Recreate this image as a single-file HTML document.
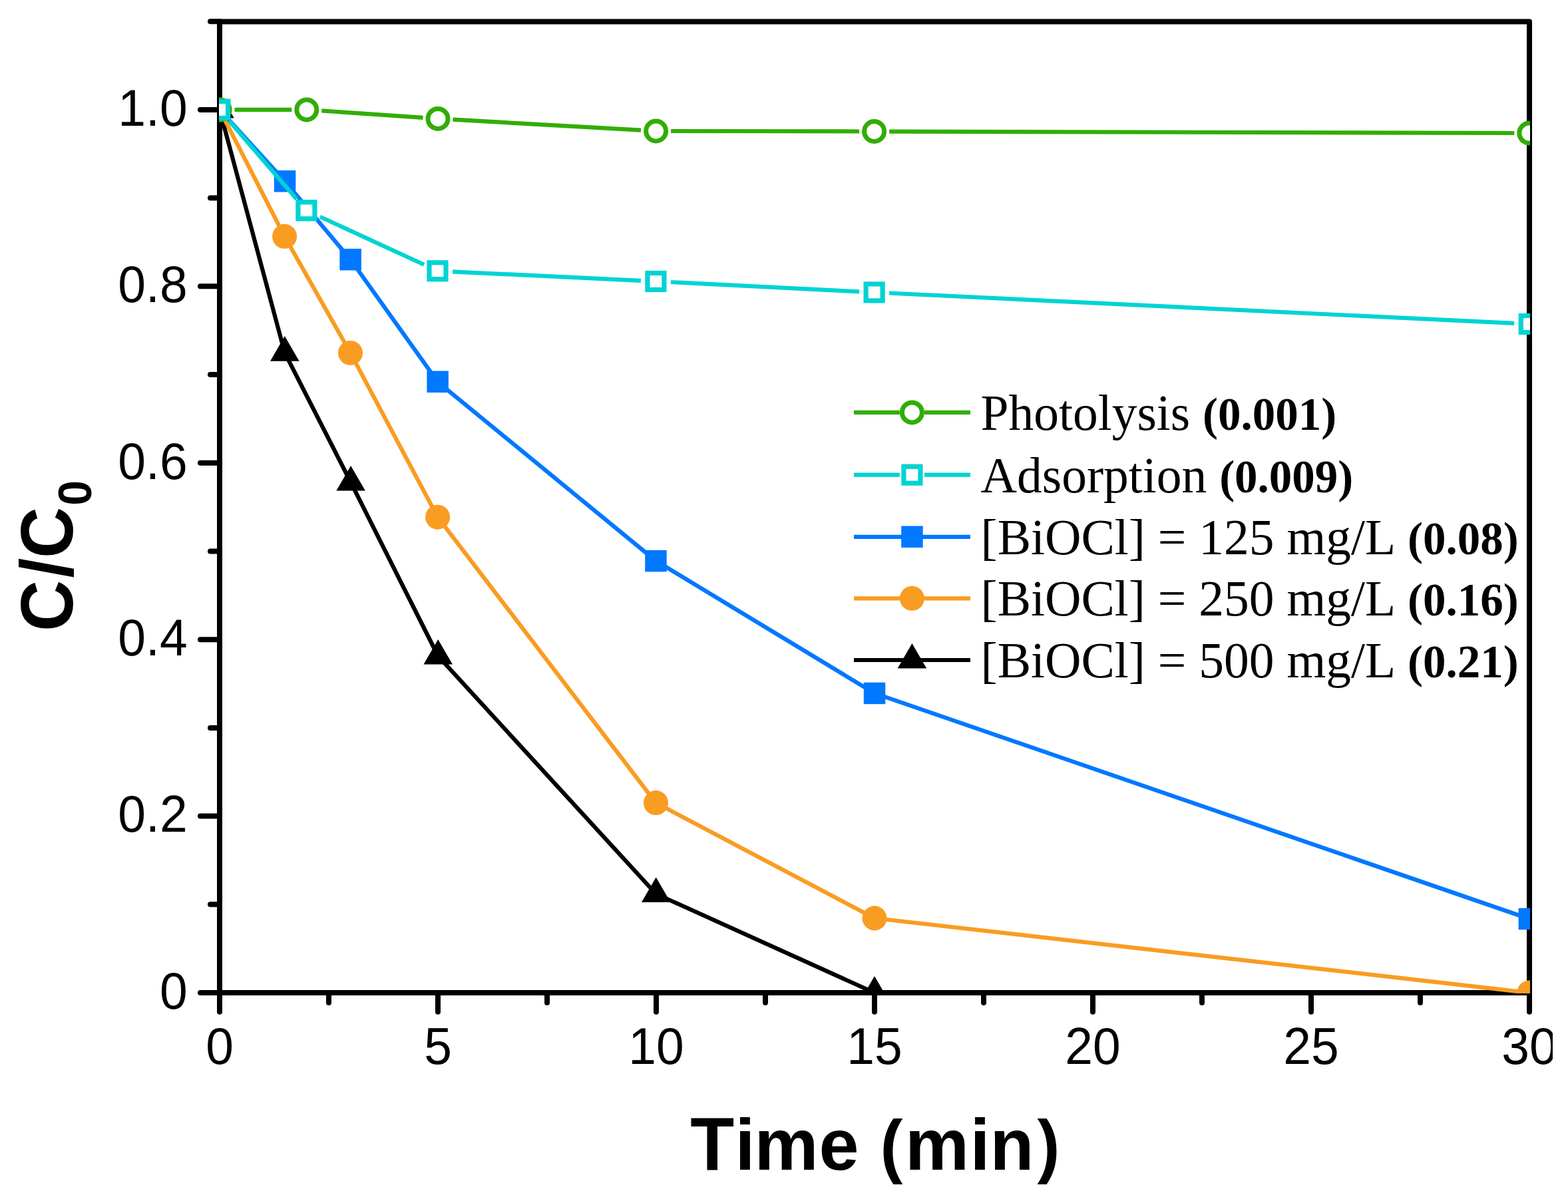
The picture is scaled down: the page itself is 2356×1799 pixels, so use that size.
<!DOCTYPE html>
<html><head><meta charset="utf-8"><title>C/C0 vs Time</title>
<style>
html,body{margin:0;padding:0;background:#fff;}
body{width:2356px;height:1799px;overflow:hidden;}
svg{display:block;}
.tk{font-family:"Liberation Sans",Arial,sans-serif;font-size:75px;fill:#000;}
.ttl{font-family:"Liberation Sans",Arial,sans-serif;font-weight:bold;fill:#000;}
.lg{font-family:"Liberation Serif","Times New Roman",serif;font-size:75.5px;fill:#000;}
.lgb{font-weight:bold;font-size:69px;}
</style></head><body>
<svg width="2356" height="1799" viewBox="0 0 2356 1799">
<defs>
<clipPath id="pc"><rect x="329" y="28" width="1970" height="1465"/></clipPath>
<clipPath id="pg"><rect x="0" y="0" width="2333" height="1799"/></clipPath>
</defs>
<rect width="2356" height="1799" fill="#fff"/>
<g clip-path="url(#pg)">

<path d="M330.0,32.5H2298.0V1492.0H330.0Z" fill="none" stroke="#000" stroke-width="8.0" stroke-linejoin="round"/>
<path d="M330.0,1492.0H301.0M330.0,1226.6H301.0M330.0,961.2H301.0M330.0,695.7H301.0M330.0,430.3H301.0M330.0,164.9H301.0M330.0,1359.3H316.0M330.0,1093.9H316.0M330.0,828.5H316.0M330.0,563.0H316.0M330.0,297.6H316.0M330.0,32.2H316.0M330.0,1492.0V1520.7M658.0,1492.0V1520.7M986.0,1492.0V1520.7M1314.0,1492.0V1520.7M1642.0,1492.0V1520.7M1970.0,1492.0V1520.7M2298.0,1492.0V1520.7M494.0,1492.0V1507.0M822.0,1492.0V1507.0M1150.0,1492.0V1507.0M1478.0,1492.0V1507.0M1806.0,1492.0V1507.0M2134.0,1492.0V1507.0" fill="none" stroke="#000" stroke-width="8.0" stroke-linecap="round"/>
<text class="tk" transform="translate(281.6,1515.8) scale(1,1.040)" text-anchor="end">0</text>
<text class="tk" transform="translate(281.6,1250.4) scale(1,1.040)" text-anchor="end">0.2</text>
<text class="tk" transform="translate(281.6,985.0) scale(1,1.040)" text-anchor="end">0.4</text>
<text class="tk" transform="translate(281.6,719.5) scale(1,1.040)" text-anchor="end">0.6</text>
<text class="tk" transform="translate(281.6,454.1) scale(1,1.040)" text-anchor="end">0.8</text>
<text class="tk" transform="translate(281.6,188.7) scale(1,1.040)" text-anchor="end">1.0</text>
<text class="tk" transform="translate(330.0,1599.4) scale(1,1.040)" text-anchor="middle">0</text>
<text class="tk" transform="translate(658.0,1599.4) scale(1,1.040)" text-anchor="middle">5</text>
<text class="tk" transform="translate(986.0,1599.4) scale(1,1.040)" text-anchor="middle">10</text>
<text class="tk" transform="translate(1314.0,1599.4) scale(1,1.040)" text-anchor="middle">15</text>
<text class="tk" transform="translate(1642.0,1599.4) scale(1,1.040)" text-anchor="middle">20</text>
<text class="tk" transform="translate(1970.0,1599.4) scale(1,1.040)" text-anchor="middle">25</text>
<text class="tk" transform="translate(2298.0,1599.4) scale(1,1.040)" text-anchor="middle">30</text>
<text class="ttl" transform="translate(0,1757.8) scale(1,1.042)" font-size="108"><tspan x="1037.3">T</tspan></text>
<text class="ttl" transform="translate(0,1757.8) scale(1,1.042)" font-size="102"><tspan x="1322.4">(</tspan></text>
<text class="ttl" transform="translate(0,1757.8) scale(1,1.042)" font-size="102"><tspan x="1558.5">)</tspan></text>
<text class="ttl" transform="translate(0,1757.8) scale(1,1.016)" font-size="108"><tspan x="1104.4">i</tspan><tspan x="1133.4">m</tspan><tspan x="1230.6">e</tspan><tspan x="1359.9">m</tspan><tspan x="1457.5">i</tspan><tspan x="1487.4">n</tspan></text>
<text class="ttl" transform="translate(108.9,1000.0) rotate(-90) scale(1,1.045)" font-size="107"><tspan x="51.0">C</tspan><tspan x="131.5">/</tspan><tspan x="161.0">C</tspan><tspan x="240.3" dy="27.2" font-size="68">0</tspan></text>
<g clip-path="url(#pc)">
<polyline points="330.0,164.9 427.8,530.1 527.1,725.0 658.2,986.0 985.7,1343.5 1314.0,1492.0" fill="none" stroke="#000000" stroke-width="6.2" stroke-linejoin="round"/>
<polygon points="330.0,139.8 351.8,177.5 308.2,177.5" fill="#000000"/>
<polygon points="427.8,505.0 449.6,542.7 406.1,542.7" fill="#000000"/>
<polygon points="527.1,699.9 548.9,737.6 505.4,737.6" fill="#000000"/>
<polygon points="658.2,960.9 680.0,998.6 636.5,998.6" fill="#000000"/>
<polygon points="985.7,1318.4 1007.5,1356.1 964.0,1356.1" fill="#000000"/>
<polygon points="1314.0,1466.9 1335.8,1504.6 1292.2,1504.6" fill="#000000"/>
<polyline points="330.0,164.9 427.6,355.3 526.5,530.4 657.6,777.2 985.5,1206.6 1314.0,1380.0 2297.8,1492.0" fill="none" stroke="#f99c22" stroke-width="6.2" stroke-linejoin="round"/>
<circle cx="330.0" cy="164.9" r="18.5" fill="#f99c22"/>
<circle cx="427.6" cy="355.3" r="18.5" fill="#f99c22"/>
<circle cx="526.5" cy="530.4" r="18.5" fill="#f99c22"/>
<circle cx="657.6" cy="777.2" r="18.5" fill="#f99c22"/>
<circle cx="985.5" cy="1206.6" r="18.5" fill="#f99c22"/>
<circle cx="1314.0" cy="1380.0" r="18.5" fill="#f99c22"/>
<circle cx="2297.8" cy="1492.0" r="18.5" fill="#f99c22"/>
<polyline points="330.0,164.9 428.0,272.4 526.6,390.0 657.6,573.8 985.5,843.0 1314.0,1041.9 2297.8,1381.0" fill="none" stroke="#0078ff" stroke-width="6.2" stroke-linejoin="round"/>
<rect x="313.8" y="148.7" width="32.5" height="32.5" fill="#0078ff"/>
<rect x="411.8" y="256.1" width="32.5" height="32.5" fill="#0078ff"/>
<rect x="510.4" y="373.8" width="32.5" height="32.5" fill="#0078ff"/>
<rect x="641.4" y="557.5" width="32.5" height="32.5" fill="#0078ff"/>
<rect x="969.2" y="826.8" width="32.5" height="32.5" fill="#0078ff"/>
<rect x="1297.8" y="1025.7" width="32.5" height="32.5" fill="#0078ff"/>
<rect x="2281.6" y="1364.8" width="32.5" height="32.5" fill="#0078ff"/>
<path d="M352.5,164.9L438.3,164.9M483.2,166.4L635.6,176.9M680.5,179.7L963.1,195.7M1008.1,197.0L1291.1,197.5M1336.1,197.6L2275.3,200.0" fill="none" stroke="#31ad05" stroke-width="6.2"/>
<circle cx="330.0" cy="164.9" r="15.0" fill="#fff" stroke="#31ad05" stroke-width="7.0"/>
<circle cx="460.8" cy="164.9" r="15.0" fill="#fff" stroke="#31ad05" stroke-width="7.0"/>
<circle cx="658.0" cy="178.4" r="15.0" fill="#fff" stroke="#31ad05" stroke-width="7.0"/>
<circle cx="985.6" cy="197.0" r="15.0" fill="#fff" stroke="#31ad05" stroke-width="7.0"/>
<circle cx="1313.6" cy="197.5" r="15.0" fill="#fff" stroke="#31ad05" stroke-width="7.0"/>
<circle cx="2297.8" cy="200.1" r="15.0" fill="#fff" stroke="#31ad05" stroke-width="7.0"/>
<path d="M344.7,181.9L445.7,299.3M480.8,325.7L637.1,397.8M680.0,408.3L962.9,421.8M1007.9,424.0L1291.1,438.3M1336.1,440.5L2275.3,485.9" fill="none" stroke="#00d3d3" stroke-width="6.2"/>
<rect x="317.5" y="152.4" width="25.0" height="25.0" fill="#fff" stroke="#00d3d3" stroke-width="7.2"/>
<rect x="447.9" y="303.8" width="25.0" height="25.0" fill="#fff" stroke="#00d3d3" stroke-width="7.2"/>
<rect x="645.0" y="394.7" width="25.0" height="25.0" fill="#fff" stroke="#00d3d3" stroke-width="7.2"/>
<rect x="972.9" y="410.4" width="25.0" height="25.0" fill="#fff" stroke="#00d3d3" stroke-width="7.2"/>
<rect x="1301.1" y="426.9" width="25.0" height="25.0" fill="#fff" stroke="#00d3d3" stroke-width="7.2"/>
<rect x="2285.3" y="474.5" width="25.0" height="25.0" fill="#fff" stroke="#00d3d3" stroke-width="7.2"/>
</g>
<path d="M1283.0,619.9H1351.8M1389.0,619.9H1458.0" stroke="#31ad05" stroke-width="6.2"/>
<circle cx="1370.4" cy="619.9" r="15.0" fill="#fff" stroke="#31ad05" stroke-width="7.0"/>
<text class="lg" x="1473.5" y="645.9" xml:space="preserve">Photolysis <tspan class="lgb">(0.001)</tspan></text>
<path d="M1283.0,713.7H1351.8M1389.0,713.7H1458.0" stroke="#00d3d3" stroke-width="6.2"/>
<rect x="1357.9" y="701.2" width="25.0" height="25.0" fill="#fff" stroke="#00d3d3" stroke-width="7.2"/>
<text class="lg" x="1473.5" y="739.7" xml:space="preserve">Adsorption <tspan class="lgb">(0.009)</tspan></text>
<path d="M1283.0,806.8H1458.0" stroke="#0078ff" stroke-width="6.2"/>
<rect x="1354.2" y="790.5" width="32.5" height="32.5" fill="#0078ff"/>
<text class="lg" x="1473.5" y="832.8" xml:space="preserve">[BiOCl] = 125 mg/L <tspan class="lgb" dx="2" font-size="70">(0.08)</tspan></text>
<path d="M1283.0,899.3H1458.0" stroke="#f99c22" stroke-width="6.2"/>
<circle cx="1370.4" cy="899.3" r="18.5" fill="#f99c22"/>
<text class="lg" x="1473.5" y="925.3" xml:space="preserve">[BiOCl] = 250 mg/L <tspan class="lgb" dx="2" font-size="70">(0.16)</tspan></text>
<path d="M1283.0,992.0H1458.0" stroke="#000000" stroke-width="6.2"/>
<polygon points="1370.4,966.9 1392.2,1004.6 1348.7,1004.6" fill="#000000"/>
<text class="lg" x="1473.5" y="1018.0" xml:space="preserve">[BiOCl] = 500 mg/L <tspan class="lgb" dx="2" font-size="70">(0.21)</tspan></text>
</g>
</svg>
</body></html>
